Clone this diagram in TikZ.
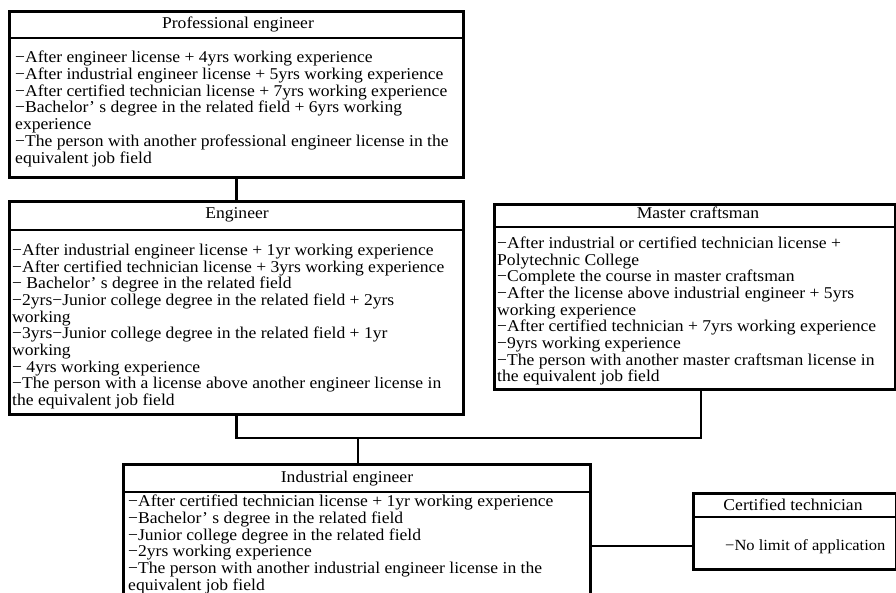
\documentclass[tikz,border=0pt]{standalone}
\usepackage{fontspec}
\setmainfont{Liberation Serif}[FakeStretch=1.065]
\usetikzlibrary{calc}
\begin{document}
\begin{tikzpicture}[x=1pt,y=-1pt,
  frame/.style={draw,line width=2.6pt,rectangle,inner sep=0pt,anchor=north west},
  rule/.style={line width=2.6pt},
  link/.style={line width=2.6pt},
  head/.style={font=\fontsize{16.5}{16.7}\selectfont,inner sep=0pt},
  body/.style={font=\fontsize{16.5}{16.7}\selectfont,inner sep=0pt,align=left,anchor=north west},
]
\useasboundingbox (0,0) rectangle (896,593);
\clip (0,0) rectangle (896,593);

% Professional engineer
\node[frame,minimum width=454pt,minimum height=166pt] (pe) at (8,10) {};
\draw[rule] (8,38) -- (462,38);
\node[head] (peT) at (238,24) {Professional engineer};
\node[body] (peB) at (15,51) {−After engineer license + 4yrs working experience\\
−After industrial engineer license + 5yrs working experience\\
−After certified technician license + 7yrs working experience\\
−Bachelor’\ s degree in the related field + 6yrs working\\
experience\\
−The person with another professional engineer license in the\\
equivalent job field};

% Engineer
\node[frame,minimum width=454pt,minimum height=213pt] (eng) at (8,200) {};
\draw[rule] (8,230) -- (462,230);
\node[head] (engT) at (237,215) {Engineer};
\node[body] (engB) at (12,243.5) {−After industrial engineer license + 1yr working experience\\
−After certified technician license + 3yrs working experience\\
− Bachelor’\ s degree in the related field\\
−2yrs−Junior college degree in the related field + 2yrs\\
working\\
−3yrs−Junior college degree in the related field + 1yr\\
working\\
− 4yrs working experience\\
−The person with a license above another engineer license in\\
the equivalent job field};

% Master craftsman
\node[frame,minimum width=401pt,minimum height=185pt] (mc) at (493,203) {};
\draw[rule] (493,227) -- (894,227);
\node[head] (mcT) at (698,213) {Master craftsman};
\node[body] (mcB) at (497,236.5) {−After industrial or certified technician license +\\
Polytechnic College\\
−Complete the course in master craftsman\\
−After the license above industrial engineer + 5yrs\\
working experience\\
−After certified technician + 7yrs working experience\\
−9yrs working experience\\
−The person with another master craftsman license in\\
the equivalent job field};

% Industrial engineer (runs past the lower edge)
\node[frame,minimum width=467pt,minimum height=160pt] (ie) at (122,463) {};
\draw[rule] (122,492) -- (589,492);
\node[head] (ieT) at (347,479) {Industrial engineer};
\node[body] (ieB) at (128,495) {−After certified technician license + 1yr working experience\\
−Bachelor’\ s degree in the related field\\
−Junior college degree in the related field\\
−2yrs working experience\\
−The person with another industrial engineer license in the\\
equivalent job field};

% Certified technician
\node[frame,minimum width=203pt,minimum height=76pt] (ct) at (692,492) {};
\draw[rule] (692,517) -- (895,517);
\node[head] (ctT) at (793,505) {Certified technician};
\node[body,font=\fontsize{15.5}{16.7}\selectfont] (ctB) at (725,539.5) {−No limit of application};

% Connectors
\coordinate (bus) at (358,438);
\coordinate (ctIn) at (692,546);
\draw[link] (pe.south) -- (eng.south |- pe.south) -- (eng.north);
\draw[link] (eng.south) |- (bus) -| ($(mc.south)+(6,0)$);
\draw[link] (bus) -- (bus |- ie.north);
\draw[link] (ie.east |- ctIn) -- (ctIn);
\end{tikzpicture}
\end{document}
